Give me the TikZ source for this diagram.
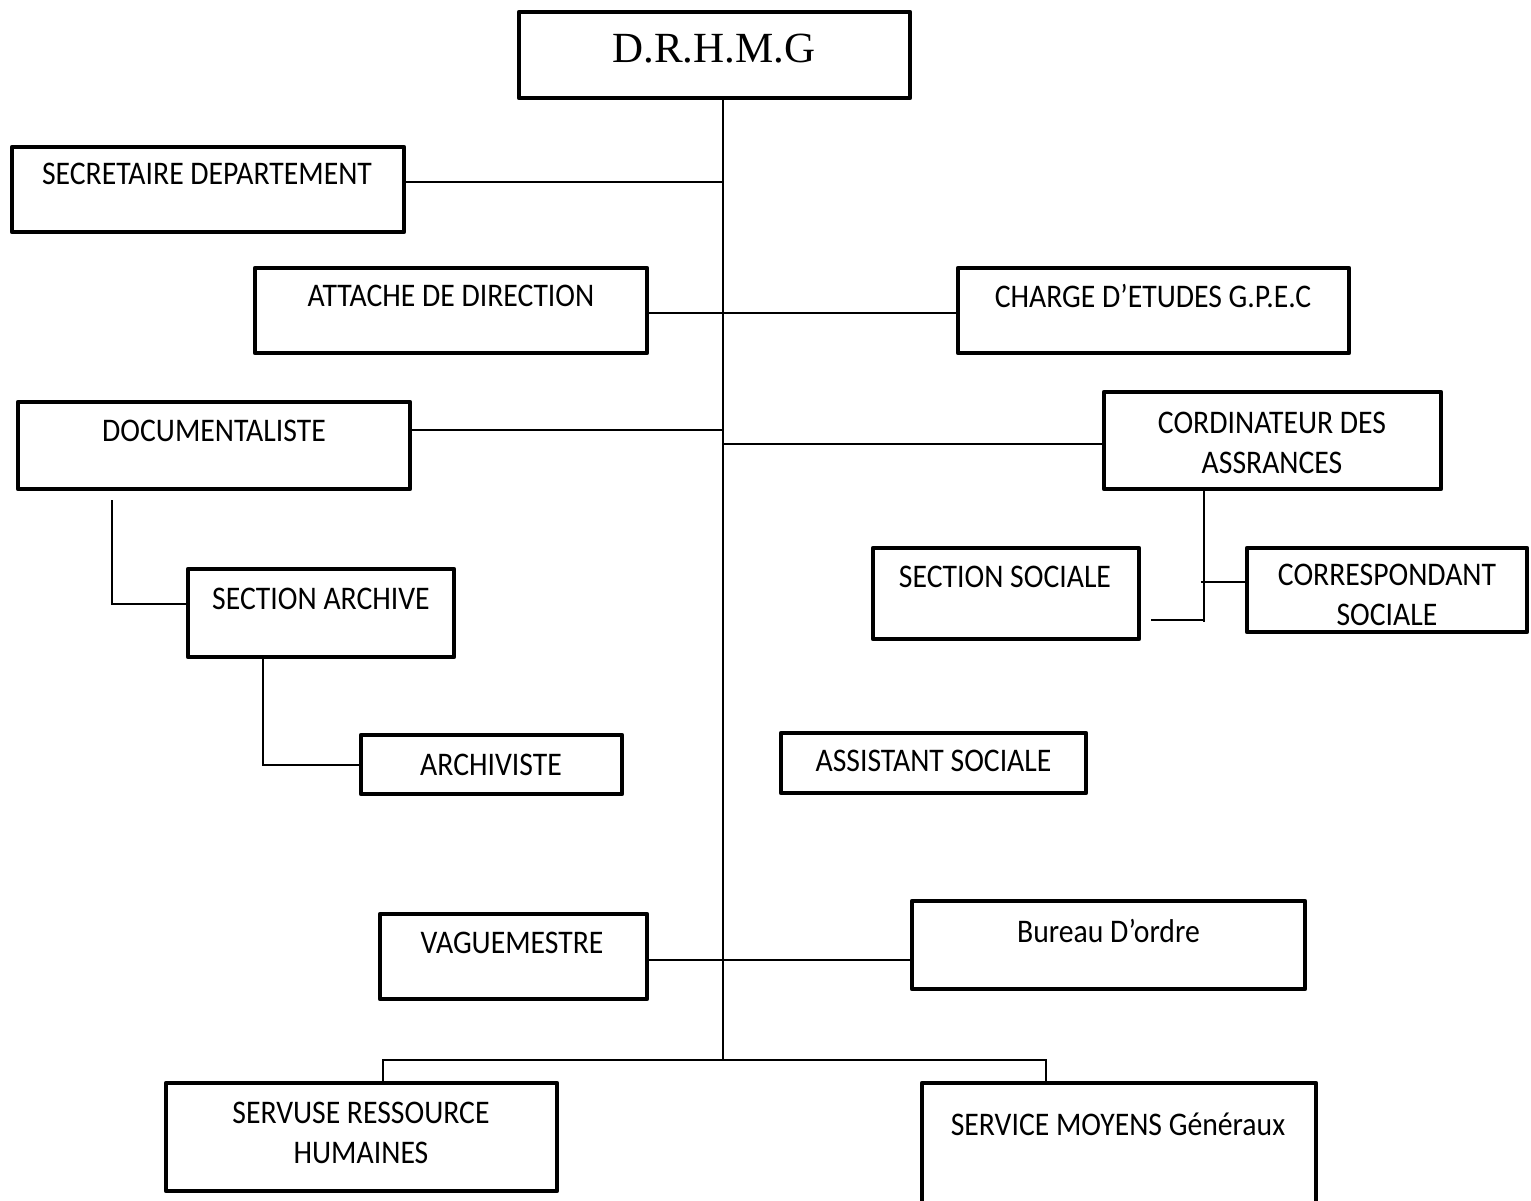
\documentclass[tikz,border=0pt]{standalone}
\usepackage{fontspec}
\setmainfont{Carlito}[FakeStretch=0.9]
\newfontfamily\headfont{Liberation Serif}
% box from its corners (x1,y1)-(x2,y2), in the picture's units
\newcommand\orgbox[5]{%
  \node[box, minimum width={(#4-#2)*0.5pt}, minimum height={(#5-#3)*0.5pt}]
    (#1) at ({(#2+#4)/2},{(#3+#5)/2}) {};}
\begin{document}
\begin{tikzpicture}[x=0.5pt,y=-0.5pt,
  box/.style={draw, line width=2.2pt, line join=round, inner sep=0pt},
  wire/.style={line width=1pt},
  lbl/.style={inner sep=0pt, anchor=base, font=\fontsize{16.5}{20}\selectfont},
  twoline/.style={lbl}]
\useasboundingbox (0,0) rectangle (1531,1200);

% ---- labels (set first, so the frames sit on top of them)
\node[inner sep=0pt, anchor=base, font=\headfont\fontsize{21.5}{26}\selectfont] (dir-t) at (714,62) {D.R.H.M.G};
\node[lbl] (sec-t) at (207,184) {SECRETAIRE DEPARTEMENT};
\node[lbl] (att-t) at (451,306) {ATTACHE DE DIRECTION};
\node[lbl] (chg-t) at (1153,307) {CHARGE D’ETUDES G.P.E.C};
\node[lbl] (doc-t) at (214,441) {DOCUMENTALISTE};
\node[lbl] (cor-t) at (1272,433) {\begin{tabular}[t]{@{}c@{}}CORDINATEUR DES\\ASSRANCES\end{tabular}};
\node[lbl] (sarch-t) at (321,609) {SECTION ARCHIVE};
\node[lbl] (ssoc-t) at (1005,587) {SECTION SOCIALE};
\node[lbl] (corr-t) at (1387,585) {\begin{tabular}[t]{@{}c@{}}CORRESPONDANT\\SOCIALE\end{tabular}};
\node[lbl] (archv-t) at (491,775) {ARCHIVISTE};
\node[lbl] (assist-t) at (933.5,771) {ASSISTANT SOCIALE};
\node[lbl] (vag-t) at (512,953) {VAGUEMESTRE};
\node[lbl] (bur-t) at (1108.5,942) {Bureau D’ordre};
\node[lbl] (srh-t) at (361,1123) {\begin{tabular}[t]{@{}c@{}}SERVUSE RESSOURCE\\HUMAINES\end{tabular}};
\node[lbl] (smg-t) at (1118,1135) {SERVICE MOYENS Généraux};

% ---- frames
\orgbox{dir}{519}{12}{910}{98}
\orgbox{sec}{12}{147}{404}{232}
\orgbox{att}{255}{268}{647}{353}
\orgbox{chg}{958}{268}{1349}{353}
\orgbox{doc}{18}{402}{410}{489}
\orgbox{cor}{1104}{392}{1441}{489}
\orgbox{sarch}{188}{569}{454}{657}
\orgbox{ssoc}{873}{548}{1139}{639}
\orgbox{corr}{1247}{548}{1527}{632}
\orgbox{archv}{361}{735}{622}{794}
\orgbox{assist}{781}{733}{1086}{793}
\orgbox{vag}{380}{914}{647}{999}
\orgbox{bur}{912}{901}{1305}{989}
\orgbox{srh}{166}{1083}{557}{1191}
\orgbox{smg}{922}{1083}{1316}{1235}

% ---- junction points
\coordinate (spinetop) at (dir.south -| 723,0);
\coordinate (spinebot) at (723,1060);
\coordinate (docdrop) at (112,500);
\coordinate (cortick) at (1201,582);
\coordinate (ssoctick) at (1151,620);

% ---- connectors
\draw[wire] (spinetop) -- (spinebot);
\draw[wire] (sec.east |- 0,182) -- (spinetop |- 0,182);
\draw[wire] (att.east |- 0,313) -- (chg.west |- 0,313);
\draw[wire] (doc.east |- 0,430) -- (spinetop |- 0,430);
\draw[wire] (spinetop |- 0,444) -- (cor.west |- 0,444);
\draw[wire] (vag.east |- 0,960) -- (bur.west |- 0,960);
\draw[wire] (srh.north -| 383,0) -- (383,1060) -- (spinebot) -- (1046,1060) -- (smg.north -| 1046,0);
\draw[wire] (docdrop) -- (112,604) -- (sarch.west |- 0,604);
\draw[wire] (sarch.south -| 263,0) -- (263,765) -- (archv.west |- 0,765);
\draw[wire] (cor.south -| 1204,0) -- (1204,622);
\draw[wire] (cortick) -- (corr.west |- cortick);
\draw[wire] (ssoctick) -- (1204,620);
\end{tikzpicture}
\end{document}
